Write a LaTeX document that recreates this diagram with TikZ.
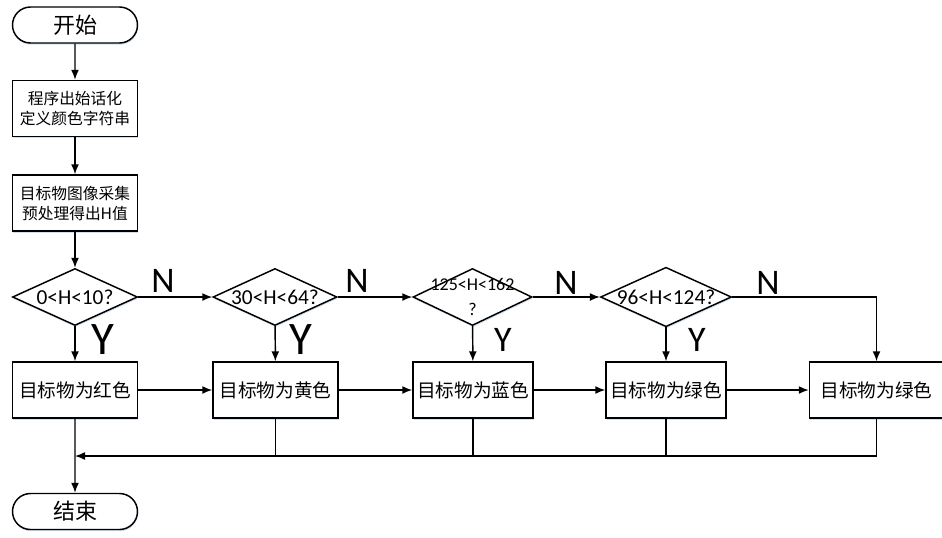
\documentclass[tikz,border=0pt]{standalone}
\usepackage{fontspec}
\setmainfont{Carlito}
\newfontfamily\cjk{Noto Sans CJK SC}
\usetikzlibrary{arrows.meta,shapes.geometric,shapes.misc,shadows}
\definecolor{glow}{HTML}{C9DDF1}

\begin{document}
\begin{tikzpicture}[x=0.75pt,y=-0.75pt,>={Latex[length=7.5pt,width=6pt]},line width=1.1pt,
  shade/.style={drop shadow={fill=glow,opacity=0.9,shadow xshift=0.4pt,shadow yshift=-1.3pt}},
  term/.style={draw,rounded rectangle,fill=white,shade,minimum width=93.75pt,minimum height=27pt,
    inner sep=0pt,font=\cjk\fontsize{16.5}{19}\selectfont},
  proc/.style={draw,rectangle,fill=white,shade,minimum width=93.75pt,minimum height=42pt,
    inner sep=0pt,align=center,font=\cjk\fontsize{11.8}{15}\selectfont},
  res/.style={draw,rectangle,fill=white,shade,minimum height=42pt,inner sep=0pt,
    font=\cjk\fontsize{14}{16}\selectfont},
  dec/.style={draw,diamond,fill=white,shade,aspect=2.2,minimum height=42.75pt,inner sep=0pt,
    font=\fontsize{16}{18}\selectfont},
  yn/.style={font=\fontsize{27}{27}\selectfont},
  flow/.style={->}]
\useasboundingbox (0,0) rectangle (942,537);

% start and preparation
\node[term] (start) at (75,25) {开始};
\node[proc] (init) at (75,108.5) {程序出始话化\\定义颜色字符串};
\node[proc] (acq) at (75,203) {目标物图像采集\\预处理得出H值};

% decisions
\node[dec,minimum width=93.75pt] (d1) at (75,297) {0<H<10?};
\node[dec,minimum width=93pt] (d2) at (275,297) {30<H<64?};
\node[dec,minimum width=89.25pt] (d3) at (472.5,297) {};
\node[font=\fontsize{13.5}{19}\selectfont,align=center] (d3t) at (472.5,297) {125<H<162\\?};
\node[dec,minimum width=90pt] (d4) at (666,297) {96<H<124?};

% results
\node[res,minimum width=93.75pt] (r1) at (75,390) {目标物为红色};
\node[res,minimum width=93.75pt] (r2) at (275.5,390) {目标物为黄色};
\node[res,minimum width=90pt] (r3) at (473,390) {目标物为蓝色};
\node[res,minimum width=90pt] (r4) at (666,390) {目标物为绿色};
\node[res,minimum width=100.5pt] (r5) at (876.5,390) {目标物为绿色};

\node[term] (end) at (75,511.5) {结束};

% connectors
\draw[flow] (start) -- (init);
\draw[flow] (init) -- (acq);
\draw[flow] (acq) -- (d1);
\draw[flow] (d1) -- (d2);
\draw[flow] (d2) -- (d3);
\draw[flow] (d3) -- (d4);
\draw[flow] (d4.east) -| (r5.north);
\draw[flow] (d1) -- (r1);
\draw[flow] (d2) -- (r2);
\draw[flow] (d3) -- (r3);
\draw[flow] (d4) -- (r4);
\draw[flow] (r1) -- (r2);
\draw[flow] (r2) -- (r3);
\draw[flow] (r3) -- (r4);
\draw[flow] (r4) -- (r5);
\coordinate (merge) at (75,456);
\draw[flow] (r5.south) |- (merge);
\foreach \r in {r2,r3,r4}
  \draw (\r.south) -- (\r.south |- merge);
\draw[flow] (r1) -- (end);

% branch labels
\node[yn] (n1) at (163,281) {N};
\node[yn] (n2) at (357,281) {N};
\node[yn] (n3) at (566,283) {N};
\node[yn] (n4) at (768,283) {N};
\node[yn,font=\fontsize{35}{35}\selectfont] (y1) at (103,340) {Y};
\node[yn,font=\fontsize{35}{35}\selectfont] (y2) at (301,340) {Y};
\node[yn] (y3) at (503,340) {Y};
\node[yn] (y4) at (697,340) {Y};
\end{tikzpicture}
\end{document}
